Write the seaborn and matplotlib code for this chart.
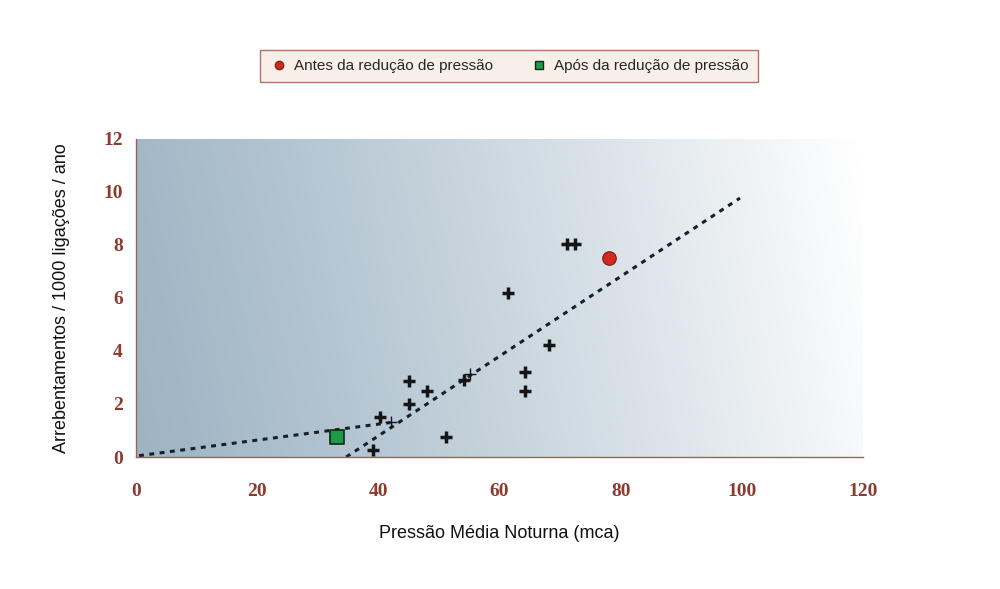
import numpy as np
import pandas as pd
import matplotlib.pyplot as plt
import matplotlib.colors as mcolors
from matplotlib.lines import Line2D
import seaborn as sns

# --- Data ---
pressao_cruz = [39.2, 40.2, 45.1, 45.1, 48.0, 51.2, 54.1, 61.4, 64.2, 64.2, 68.1, 71.1, 72.5]
arreb_cruz = [0.26, 1.52, 2.0, 2.88, 2.49, 0.74, 2.9, 6.2, 2.49, 3.22, 4.23, 8.03, 8.03]

pressao_fino = [42.1, 55.1]
arreb_fino = [1.33, 3.13]

pressao_antes = [78.1]
arreb_antes = [7.52]

pressao_apos = [33.1]
arreb_apos = [0.77]

tend1_x = [0.5, 42.0]
tend1_y = [0.05, 1.30]
tend2_x = [34.7, 99.7]
tend2_y = [0.0, 9.77]

x_ticks = [0, 20, 40, 60, 80, 100, 120]
y_ticks = [0, 2, 4, 6, 8, 10, 12]

RED_BROWN = "#8c3b30"
SPINE = "#a0605a"

sns.set_style("white")
plt.rcParams['font.family'] = ['Liberation Sans', 'DejaVu Sans']

fig = plt.figure(figsize=(10, 5.89), dpi=100)
ax = fig.add_axes([0.136, 0.2241, 0.727, 0.540])

# gradient background (dark blue-grey on the left to white on the right)
nx, ny = 300, 100
xn = np.linspace(0, 1, nx)[None, :]
yn = np.linspace(0, 1, ny)[:, None]
t = np.clip(0.93 * xn + 0.08 * yn, 0, 1) ** 1.15
c0 = np.array(mcolors.to_rgb("#9eb4c4"))
c1 = np.array([1.0, 1.0, 1.0])
img = c0[None, None, :] * (1 - t[..., None]) + c1[None, None, :] * t[..., None]
ax.imshow(img, extent=[0, 120, 0, 12], origin="lower", aspect="auto", zorder=0)

# trend lines
sns.lineplot(x=tend1_x, y=tend1_y, ax=ax, color="#15202a", lw=2.2,
             linestyle=(0, (1.6, 1.8)), zorder=2)
sns.lineplot(x=tend2_x, y=tend2_y, ax=ax, color="#15202a", lw=2.2,
             linestyle=(0, (1.6, 1.8)), zorder=2)

# points
sns.scatterplot(x=pressao_cruz, y=arreb_cruz, ax=ax, marker="+", s=75,
                color="#151515", linewidth=2.5, zorder=3)
sns.scatterplot(x=pressao_fino, y=arreb_fino, ax=ax, marker="+", s=75,
                color="#151515", linewidth=1.0, zorder=3)
sns.scatterplot(x=pressao_antes, y=arreb_antes, ax=ax, marker="o", s=95,
                color="#d32a20", edgecolor="#7a1a10", linewidth=0.8, zorder=4)
sns.scatterplot(x=pressao_apos, y=arreb_apos, ax=ax, marker="s", s=90,
                color="#1e9a48", edgecolor="#0d2a15", linewidth=1.2, zorder=4)

ax.set_xlim(0, 120)
ax.set_ylim(0, 12)
ax.set_xticks(x_ticks)
ax.set_yticks(y_ticks)
for s in ["top", "right"]:
    ax.spines[s].set_visible(False)
for s in ["left", "bottom"]:
    ax.spines[s].set_color(SPINE)
    ax.spines[s].set_linewidth(1.0)
ax.tick_params(axis="both", direction="inout", length=9, width=1.0, color=SPINE,
               labelcolor=RED_BROWN, labelsize=14)
ax.tick_params(axis="x", pad=14)
ax.tick_params(axis="y", pad=5)
for lab in ax.get_xticklabels() + ax.get_yticklabels():
    lab.set_family("Liberation Serif")
    lab.set_fontweight("bold")

ax.set_xlabel("Pressão Média Noturna (mca)", fontsize=13, color="#111111", labelpad=18)
ax.set_ylabel("Arrebentamentos / 1000 ligações / ano", fontsize=13, color="#111111", labelpad=24)

handles = [
    Line2D([], [], marker="o", linestyle="", markersize=6, markerfacecolor="#d32a20",
           markeredgecolor="#8a2015", label="Antes da redução de pressão"),
    Line2D([], [], marker="s", linestyle="", markersize=6, markerfacecolor="#1e9a48",
           markeredgecolor="#0d2a15", label="Após da redução de pressão"),
]
leg = fig.legend(handles=handles, loc="center", bbox_to_anchor=(0.509, 0.888), ncol=2,
                 fontsize=11, frameon=True, fancybox=False, handletextpad=0.4,
                 columnspacing=2.4, borderpad=0.6, handlelength=1.2)
leg.get_frame().set_facecolor("#f8ece4")
leg.get_frame().set_edgecolor("#a0504a")
leg.get_frame().set_linewidth(1.0)

fig.savefig("out.png", dpi=100)
